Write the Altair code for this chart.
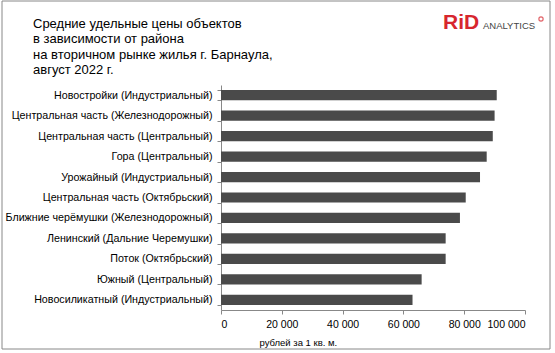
import altair as alt
import pandas as pd

categories = [
    "Новостройки (Индустриальный)",
    "Центральная часть (Железнодорожный)",
    "Центральная часть (Центральный)",
    "Гора (Центральный)",
    "Урожайный (Индустриальный)",
    "Центральная часть (Октябрьский)",
    "Ближние черёмушки (Железнодорожный)",
    "Ленинский (Дальние Черемушки)",
    "Поток (Октябрьский)",
    "Южный (Центральный)",
    "Новосиликатный (Индустриальный)",
]
values = [90700, 90000, 89400, 87400, 85200, 80500, 78600, 73900, 73900, 66000, 63000]
x_ticks = [0, 20000, 40000, 60000, 80000, 100000]
title_lines = [
    "Средние удельные цены объектов",
    "в зависимости от района",
    "на вторичном рынке жилья г. Барнаула,",
    "август 2022 г.",
]
x_title = "рублей за 1 кв. м."

df = pd.DataFrame({"name": categories, "price": values})
one = pd.DataFrame({"k": [0]})

FONT = "Liberation Sans"
PL, PT = 221, 85

bars = alt.Chart(df).mark_bar(color="#4a4a4a").encode(
    x=alt.X("price:Q",
            scale=alt.Scale(domain=[0, 100000], nice=False),
            axis=alt.Axis(values=x_ticks, grid=False, title=x_title,
                          labelExpr="replace(format(datum.value, ','), ',', ' ')",
                          labelFont=FONT, labelFontSize=10.5, labelColor="#000",
                          labelPadding=5, tickSize=4, tickColor="#888",
                          domainColor="#888", titleFont=FONT, titleFontSize=9.5,
                          titleFontWeight="normal", titleColor="#000",
                          titleAnchor="start", titleAlign="left",
                          titleX=38, titleY=32, titleBaseline="middle")),
    y=alt.Y("name:N", sort=categories,
            scale=alt.Scale(paddingInner=0.5, paddingOuter=0.25),
            axis=alt.Axis(title=None, labelFont=FONT, labelFontSize=10.7,
                          labelColor="#000", labelPadding=5, tickSize=4,
                          tickColor="#888", domainColor="#888",
                          tickBand="extent", labelLimit=300)),
)

frame = alt.Chart(one).mark_rect(fill=None, stroke="#888", strokeWidth=1).encode(
    x=alt.value(2 - PL), x2=alt.value(550 - PL),
    y=alt.value(1 - PT), y2=alt.value(349 - PT),
)

title = alt.Chart(one).mark_text(
    font=FONT, fontSize=13, color="#000", align="left", baseline="top",
    lineHeight=15.3,
).encode(x=alt.value(33 - PL), y=alt.value(18 - PT), text=alt.value(title_lines))

logo_rid = alt.Chart(one).mark_text(
    text="RiD", font=FONT, fontWeight="bold", fontSize=21, color="#d7262e",
    align="left", baseline="alphabetic",
).encode(x=alt.value(443 - PL), y=alt.value(29 - PT))

logo_an = alt.Chart(one).mark_text(
    text="ANALYTICS", font=FONT, fontSize=9.5, color="#444",
    align="left", baseline="alphabetic",
).encode(x=alt.value(483 - PL), y=alt.value(29 - PT))

logo_dot = alt.Chart(one).mark_point(
    shape="circle", filled=False, color="#d7262e", size=18, strokeWidth=1.2,
).encode(x=alt.value(541 - PL), y=alt.value(19 - PT))

chart = alt.layer(frame, bars, title, logo_rid, logo_an, logo_dot).properties(
    width=304, height=225,
    padding={"left": PL, "top": PT, "right": 555 - PL - 304, "bottom": 353 - PT - 225},
    autosize=alt.AutoSizeParams(type="none"),
).configure_view(stroke=None)

chart.save("out.html", embed_options={"renderer": "svg", "actions": False})
